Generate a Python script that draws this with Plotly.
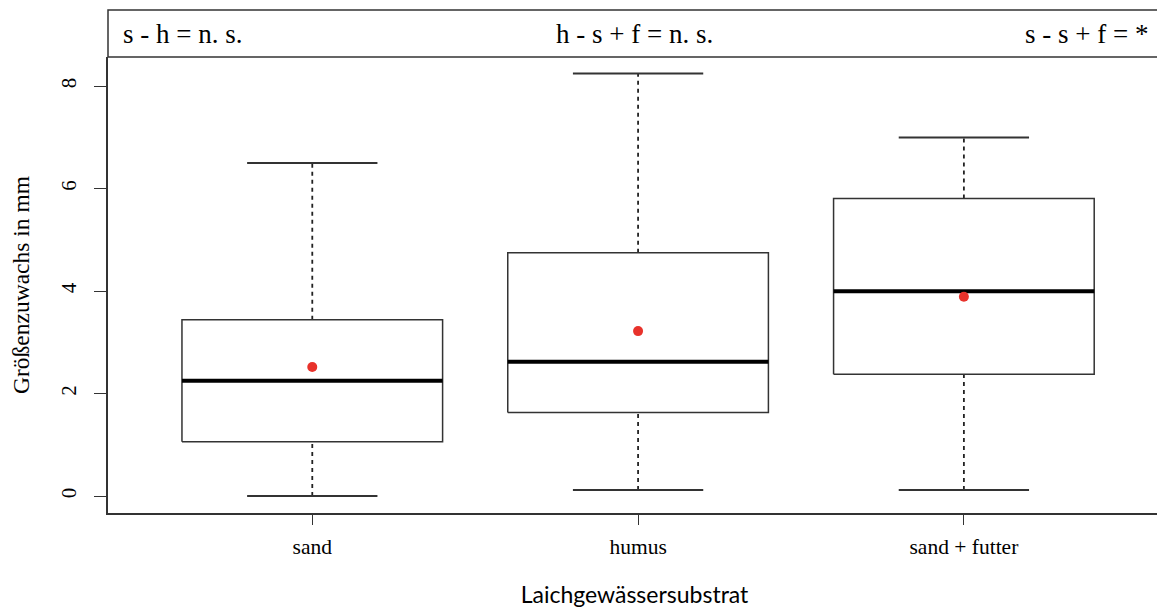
import plotly.graph_objects as go

# ---- data ----
categories = ["sand", "humus", "sand + futter"]
lower_whisker = [0.0, 0.12, 0.12]
q1 = [1.06, 1.63, 2.38]
median = [2.25, 2.62, 4.0]
q3 = [3.44, 4.75, 5.81]
upper_whisker = [6.5, 8.25, 7.0]
means = [2.52, 3.22, 3.89]
y_ticks = [0, 2, 4, 6, 8]
strip_labels = ["s - h = n. s.", "h - s + f = n. s.", "s - s + f = *"]
x_title = "Laichgewässersubstrat"
y_title = "Größenzuwachs in mm"

positions = [i + 1 for i in range(len(categories))]
half_box = 0.4
half_cap = 0.2

SERIF = "Liberation Serif, Times New Roman, serif"

fig = go.Figure()

for p, lo, a, m, b, hi in zip(positions, lower_whisker, q1, median, q3, upper_whisker):
    # whiskers (dashed)
    fig.add_trace(go.Scatter(
        x=[p, p, None, p, p], y=[b, hi, None, lo, a], mode="lines",
        line=dict(color="#222222", width=1.8, dash="4px,4px"),
        hoverinfo="skip", showlegend=False))
    # caps
    fig.add_trace(go.Scatter(
        x=[p - half_cap, p + half_cap, None, p - half_cap, p + half_cap],
        y=[hi, hi, None, lo, lo], mode="lines",
        line=dict(color="#333333", width=2),
        hoverinfo="skip", showlegend=False))
    # box
    fig.add_trace(go.Scatter(
        x=[p - half_box, p + half_box, p + half_box, p - half_box, p - half_box],
        y=[a, a, b, b, a], mode="lines", fill="toself", fillcolor="white",
        line=dict(color="#333333", width=1.5),
        hoverinfo="skip", showlegend=False))
    # median
    fig.add_trace(go.Scatter(
        x=[p - half_box, p + half_box], y=[m, m], mode="lines",
        line=dict(color="black", width=4),
        hoverinfo="skip", showlegend=False))

# means
fig.add_trace(go.Scatter(
    x=positions, y=means, mode="markers",
    marker=dict(color="#e8322b", size=10),
    showlegend=False))

# strip box on top
strip_h = 47 / 456
fig.add_shape(type="rect", xref="paper", yref="paper",
              x0=0, x1=1.002, y0=1, y1=1 + strip_h,
              line=dict(color="#333333", width=1.5), fillcolor="white")
# faint right border of plot
fig.add_shape(type="line", xref="paper", yref="paper",
              x0=1, x1=1, y0=0, y1=1,
              line=dict(color="#cccccc", width=1))

anchors = [("left", 0.012), ("center", 0.5), ("right", 0.99)]
for (xa, xp), txt in zip(anchors, strip_labels):
    fig.add_annotation(text=txt, xref="paper", yref="paper",
                       x=xp, y=1 + strip_h / 2, xanchor=xa, yanchor="middle",
                       showarrow=False,
                       font=dict(family=SERIF, size=27, color="black"))

fig.update_layout(
    width=1157, height=600,
    margin=dict(l=100, r=4, t=49, b=95),
    paper_bgcolor="white", plot_bgcolor="white",
    xaxis=dict(
        range=[0.373, 3.605], tickmode="array", tickvals=positions,
        ticktext=categories, showgrid=False, zeroline=False,
        showline=True, linecolor="#333333", linewidth=1.5,
        ticks="outside", ticklen=10, tickwidth=1.3, tickcolor="#333333",
        ticklabelstandoff=3, automargin=False,
        tickfont=dict(family=SERIF, size=21.5, color="black"),
        title=dict(text=x_title, standoff=31,
                   font=dict(family="Lato, Liberation Sans, sans-serif", size=23, color="black")),
    ),
    yaxis=dict(
        range=[-0.33, 8.57], tickmode="array", tickvals=y_ticks,
        ticktext=[str(v) for v in y_ticks], showgrid=False, zeroline=False,
        showline=True, linecolor="#333333", linewidth=1.5,
        ticks="outside", ticklen=12, tickwidth=1.3, tickcolor="#333333",
        tickangle=-90, ticklabelstandoff=10, automargin=False,
        tickfont=dict(family=SERIF, size=21, color="black"),
        title=dict(text=y_title, standoff=32,
                   font=dict(family=SERIF, size=23.5, color="black")),
    ),
)

fig.write_html("out.html")
